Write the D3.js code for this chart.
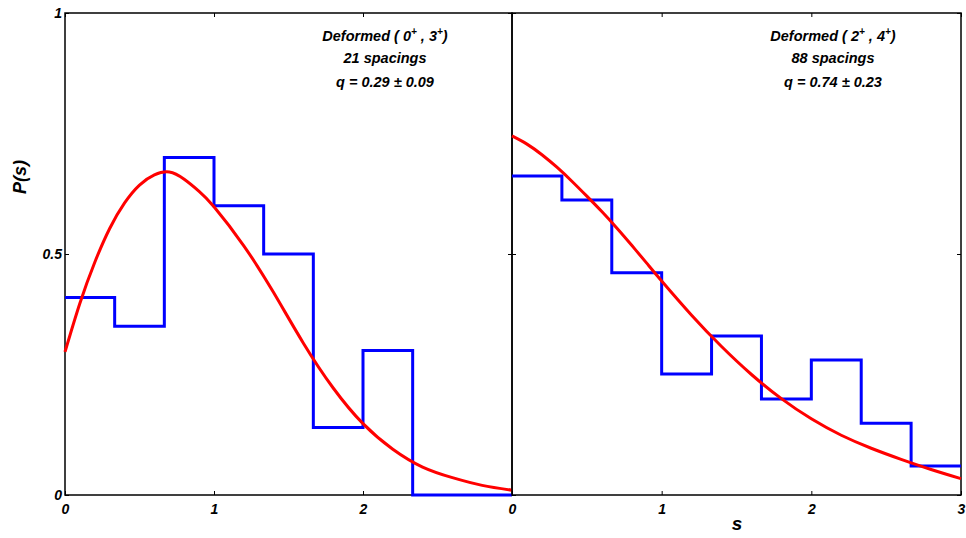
<!DOCTYPE html>
<html>
<head>
<meta charset="utf-8">
<script src="https://cdn.jsdelivr.net/npm/d3@7"></script>
<style>
  body { margin: 0; background: #fff; }
  text { font-family: "Liberation Sans", Arial, sans-serif; font-weight: bold; font-style: italic; }
</style>
</head>
<body>
<div id="chart"></div>
<script>
// histogram bins (width 1/3) and read-off P(s) values
const binEdges = [0, 1/3, 2/3, 1, 4/3, 5/3, 2, 7/3, 8/3, 3];
const leftHist = [0.41, 0.35, 0.70, 0.60, 0.50, 0.14, 0.30, 0, 0];
const rightHist = [0.662, 0.612, 0.461, 0.251, 0.330, 0.199, 0.280, 0.149, 0.060];

// fitted curves, values
const curveS = [0, 0.1, 0.2, 0.3, 0.4, 0.5, 0.6, 0.7, 0.8, 0.9, 1.0, 1.2, 1.4, 1.6, 1.8, 2.0, 2.2, 2.4, 2.6, 2.8, 3.0];
const leftCurveP = [0.297, 0.398, 0.483, 0.553, 0.606, 0.643, 0.664, 0.670, 0.655, 0.630, 0.598, 0.517, 0.42, 0.315, 0.222, 0.148, 0.095, 0.058, 0.036, 0.020, 0.01];
const rightCurveP = [0.745, 0.728, 0.706, 0.680, 0.651, 0.620, 0.588, 0.554, 0.518, 0.481, 0.444, 0.373, 0.308, 0.250, 0.200, 0.158, 0.124, 0.097, 0.074, 0.053, 0.034];

const leftXTicks = [0, 1, 2];
const rightXTicks = [0, 1, 2, 3];
const yTicks = [0, 0.5, 1];

const panels = [
  { hist: leftHist, cp: leftCurveP, ticks: leftXTicks, range: [65, 512],
    lines: ["Deformed ( 0|+| , 3|+|)", "21 spacings", "q = 0.29 \u00b1 0.09"], tx: 385, yAxisLabels: true },
  { hist: rightHist, cp: rightCurveP, ticks: rightXTicks, range: [512, 961],
    lines: ["Deformed ( 2|+| , 4|+|)", "88 spacings", "q = 0.74 \u00b1 0.23"], tx: 833, yAxisLabels: false }
];

const width = 966, height = 538;
const svg = d3.select("#chart").append("svg")
  .attr("width", width).attr("height", height);

const y = d3.scaleLinear().domain([0, 1]).range([495, 13]);

panels.forEach((p) => {
  const x = d3.scaleLinear().domain([0, 3]).range(p.range);
  const g = svg.append("g");

  // frame
  g.append("rect")
    .attr("x", p.range[0]).attr("y", y(1))
    .attr("width", p.range[1] - p.range[0]).attr("height", y(0) - y(1))
    .attr("fill", "none").attr("stroke", "#000").attr("stroke-width", 1.5);

  // axes, ticks pointing inward
  const xb = g.append("g").attr("transform", `translate(0,${y(0)})`)
    .call(d3.axisBottom(x).tickValues(p.ticks).tickSizeInner(-4).tickSizeOuter(0).tickPadding(9).tickFormat(d3.format("")));
  const xt = g.append("g").attr("transform", `translate(0,${y(1)})`)
    .call(d3.axisTop(x).tickValues(p.ticks).tickSizeInner(-4).tickSizeOuter(0).tickFormat(""));
  const yl = g.append("g").attr("transform", `translate(${p.range[0]},0)`)
    .call(d3.axisLeft(y).tickValues(yTicks).tickSizeInner(-4).tickSizeOuter(0).tickPadding(3)
      .tickFormat(p.yAxisLabels ? d3.format("") : ""));
  const yr = g.append("g").attr("transform", `translate(${p.range[1]},0)`)
    .call(d3.axisRight(y).tickValues(yTicks).tickSizeInner(-4).tickSizeOuter(0).tickFormat(""));
  [xb, xt, yl, yr].forEach((a) => {
    a.select(".domain").remove();
    a.selectAll("line").attr("stroke", "#000").attr("stroke-width", 1);
    a.selectAll("text").attr("font-size", 14).attr("fill", "#000")
      .style("font-family", "'Liberation Sans', Arial, sans-serif");
  });

  // histogram as stairs
  const pts = p.hist.map((v, i) => [binEdges[i], v]);
  pts.push([3, p.hist[p.hist.length - 1]]);
  g.append("path")
    .attr("d", d3.line().x((d) => x(d[0])).y((d) => y(d[1])).curve(d3.curveStepAfter)(pts))
    .attr("fill", "none").attr("stroke", "#0000ff").attr("stroke-width", 3);

  // fitted curve
  const cpts = curveS.map((s, i) => [s, p.cp[i]]);
  g.append("path")
    .attr("d", d3.line().x((d) => x(d[0])).y((d) => y(d[1])).curve(d3.curveNatural)(cpts))
    .attr("fill", "none").attr("stroke", "#ff0000").attr("stroke-width", 3);

  // annotations
  const ys = [41, 63, 87];
  p.lines.forEach((ln, i) => {
    const t = g.append("text").attr("x", p.tx).attr("y", ys[i])
      .attr("text-anchor", "middle").attr("font-size", 14.5).attr("fill", "#000");
    ln.split("|").forEach((part, j) => {
      if (j % 2 === 1) {
        t.append("tspan").attr("font-size", 10).attr("dy", -6).text(part);
      } else {
        t.append("tspan").attr("dy", j > 0 ? 6 : 0).text(part);
      }
    });
  });
});

// axis titles
svg.append("text").attr("transform", "translate(26,177) rotate(-90)")
  .attr("text-anchor", "middle").attr("font-size", 18).text("P(s)");
svg.append("text").attr("x", 737).attr("y", 530)
  .attr("text-anchor", "middle").attr("font-size", 19).text("s");
</script>
</body>
</html>
